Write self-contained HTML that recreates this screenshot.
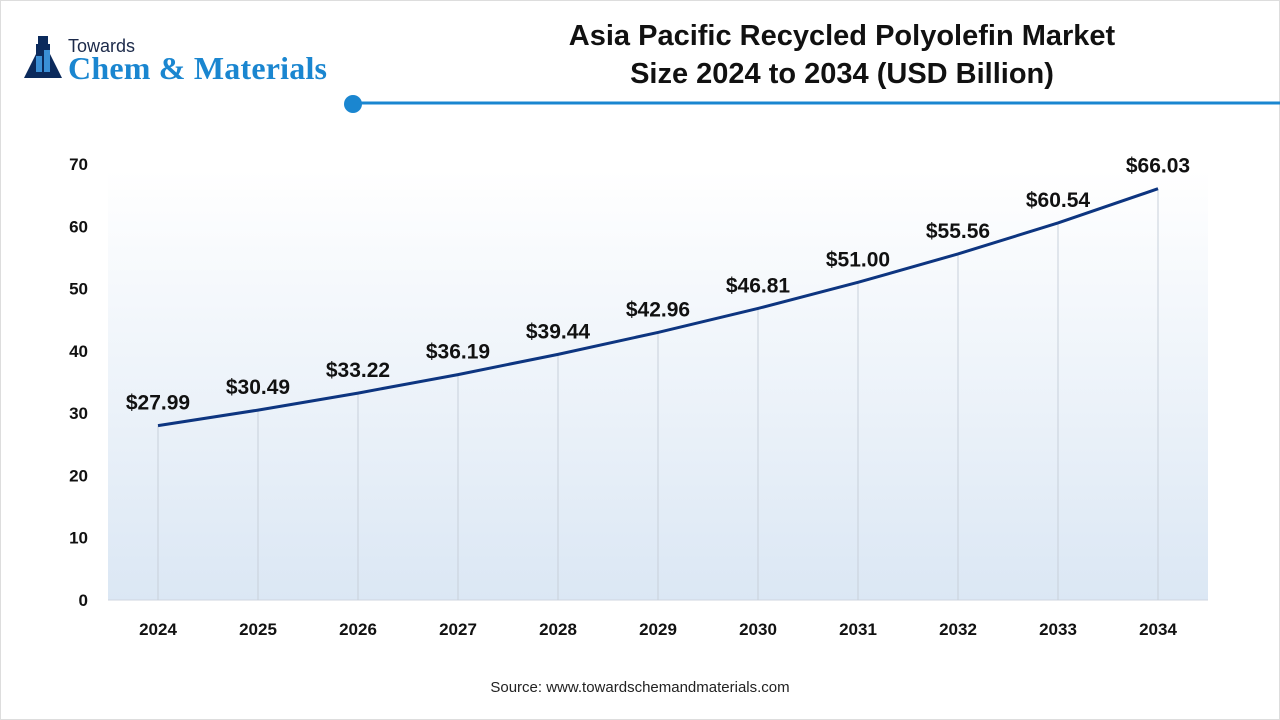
<!DOCTYPE html>
<html><head><meta charset="utf-8"><style>
body{margin:0;width:1280px;height:720px;background:#fff;font-family:"Liberation Sans",sans-serif;overflow:hidden;position:relative}
.frame{position:absolute;left:0;top:0;width:1278px;height:718px;border:1px solid #ddd}
</style></head><body>
<div class="frame"></div>
<svg width="1280" height="720" style="position:absolute;left:0;top:0">
<defs><linearGradient id="bg" x1="0" y1="0" x2="0" y2="1"><stop offset="0" stop-color="#ffffff"/><stop offset="1" stop-color="#dbe7f4"/></linearGradient></defs>
<g>
<rect x="38" y="36" width="10" height="8" fill="#0b2a5c"/>
<path d="M36 44 H50 V54 L62 78 H24 L36 54 Z" fill="#0b2a5c"/>
<rect x="36" y="56" width="6" height="16" fill="#3a8fd6"/><rect x="44" y="50" width="6" height="22" fill="#3a8fd6"/>
<text x="68" y="52" font-size="18" fill="#1c2a4a">Towards</text>
<text x="68" y="79" font-size="32" font-weight="bold" font-family="Liberation Serif,serif" fill="#1a86d0" textLength="259">Chem &amp; Materials</text>
</g>
<text x="842" y="45" text-anchor="middle" font-size="29" font-weight="bold" fill="#111">Asia Pacific Recycled Polyolefin Market</text>
<text x="842" y="83" text-anchor="middle" font-size="29" font-weight="bold" fill="#111">Size 2024 to 2034 (USD Billion)</text>
<line x1="353" y1="103" x2="1280" y2="103" stroke="#1a86d0" stroke-width="3"/>
<circle cx="353" cy="104" r="9" fill="#1a86d0"/>
<rect x="108" y="170" width="1100" height="430" fill="url(#bg)"/>
<g id="g"></g>
<text x="640" y="692" text-anchor="middle" font-size="15" fill="#222">Source: www.towardschemandmaterials.com</text>
</svg>
<script>
const years=["2024","2025","2026","2027","2028","2029","2030","2031","2032","2033","2034"];
const values=[27.99,30.49,33.22,36.19,39.44,42.96,46.81,51.00,55.56,60.54,66.03];
const labels=["$27.99","$30.49","$33.22","$36.19","$39.44","$42.96","$46.81","$51.00","$55.56","$60.54","$66.03"];
const yTicks=[0,10,20,30,40,50,60,70];
const X=i=>158+i*100, Y=v=>600-v*436/70;
const g=document.getElementById('g'),NS='http://www.w3.org/2000/svg';
function mk(t,a,txt){const e=document.createElementNS(NS,t);for(const k in a)e.setAttribute(k,a[k]);if(txt!=null)e.textContent=txt;g.appendChild(e);return e;}
yTicks.forEach(t=>{const e=mk('text',{x:88,y:Y(t)+6,'text-anchor':'end','font-size':17,'font-weight':'bold',fill:'#111'},t);

});
mk('line',{x1:108,y1:600,x2:1208,y2:600,stroke:'#cfd6df'});
values.forEach((v,i)=>{const l=mk('line',{x1:X(i),y1:Y(v),x2:X(i),y2:600,stroke:'#c8d0da','stroke-width':1});


const t=mk('text',{x:X(i),y:635,'text-anchor':'middle','font-size':17,'font-weight':'bold',fill:'#111'},years[i]);


const d=mk('text',{x:X(i),y:Y(v)-16,'text-anchor':'middle','font-size':21,'font-weight':'bold',fill:'#111'},labels[i]);

});
const p=mk('polyline',{points:values.map((v,i)=>X(i)+','+Y(v)).join(' '),fill:'none',stroke:'#0d3580','stroke-width':3});


</script>
</body></html>
